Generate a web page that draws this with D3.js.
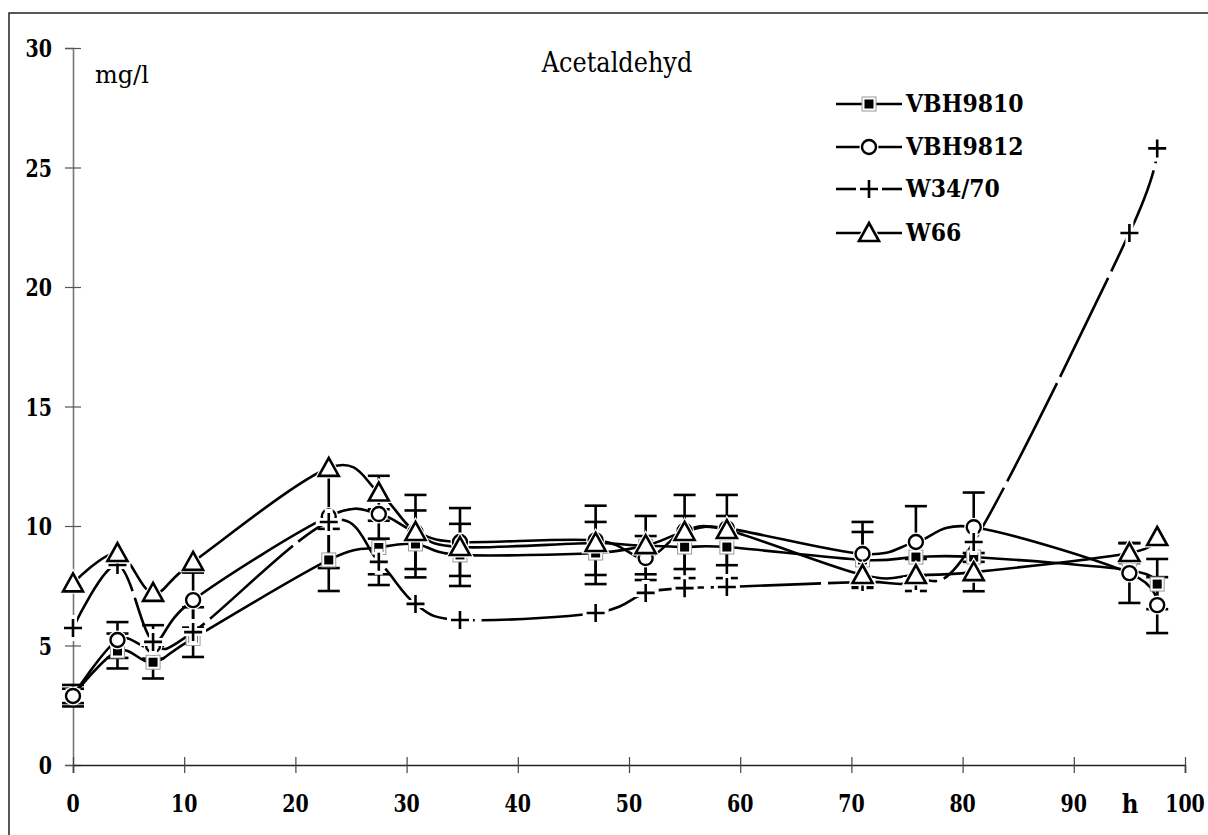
<!DOCTYPE html>
<html>
<head>
<meta charset="utf-8">
<script src="https://cdn.jsdelivr.net/npm/d3@7"></script>
<style>
  html, body { margin: 0; padding: 0; background: #fff; }
  svg { display: block; }
</style>
</head>
<body>
<svg id="chart" width="1208" height="835"></svg>
<script>
// Sampling times (h)
const hours = [0, 4, 7.2, 10.8, 23, 27.5, 30.8, 34.8, 47, 51.5, 55, 58.8, 71, 75.8, 81, 95, 97.5];

// Acetaldehyde concentration (mg/l) per yeast strain
const vbh9810 = [2.9, 4.77, 4.3, 5.3, 8.58, 9.1, 9.25, 8.79, 8.87, 9.15, 9.12, 9.12, 8.58, 8.7, 8.7, 8.15, 7.57];
const vbh9812 = [2.89, 5.23, 5.0, 6.9, 10.4, 10.5, 9.75, 9.33, 9.4, 8.66, 9.8, 9.9, 8.83, 9.33, 9.95, 8.03, 6.69];
const w3470   = [5.73, 8.37, 5.15, 5.56, 10.17, 8.5, 6.74, 6.07, 6.36, 7.2, 7.4, 7.45, 7.66, 7.7, 9.33, 22.26, 25.8];
const w66     = [7.6, 8.87, 7.2, 8.5, 12.43, 11.4, 9.75, 9.12, 9.29, 9.2, 9.75, 9.83, 7.95, 7.95, 8.07, 8.87, 9.54];

// Standard deviations (± mg/l), null where no bar is drawn
const vbh9810Err = [0.45, 0.73, 0.68, null, 1.3, 1.12, 1.4, 1.3, 1.3, null, 1.3, 1.3, 1.17, null, null, null, 1.05];
const vbh9812Err = [0.3, 0.75, null, 1.15, null, null, null, 1.42, 1.45, 0.92, null, null, 1.34, 1.5, 1.45, 1.25, 1.17];
const w3470Err   = [null, null, 0.7, 1.04, 1.93, 0.97, null, null, null, null, null, null, null, null, null, null, null];
const w66Err     = [null, null, null, null, null, 0.7, 1.55, null, null, 1.22, 1.55, 1.47, null, 0.67, 0.8, 0.42, null];

const seriesNames = ["VBH9810", "VBH9812", "W34/70", "W66"];
const seriesValues = [vbh9810, vbh9812, w3470, w66];
const seriesErrors = [vbh9810Err, vbh9812Err, w3470Err, w66Err];
const seriesMarkers = ["square", "circle", "plus", "triangle"];
const seriesDash = [null, null, "110,7", null];

const xTicks = [0, 10, 20, 30, 40, 50, 60, 70, 80, 90, 100];
const yTicks = [0, 5, 10, 15, 20, 25, 30];

const titleText = "Acetaldehyd";
const unitText = "mg/l";
const xUnitText = "h";

const SERIF = "'DejaVu Serif', 'Liberation Serif', serif";
const svg = d3.select("#chart");

// Text helper: serif label, slightly stretched vertically like the printed figure
function label(g, x0, y0, str, opts) {
  const o = Object.assign({ size: 20, weight: "normal", anchor: "start", sy: 1 }, opts || {});
  return g.append("text")
    .attr("transform", `translate(${x0},${y0}) scale(1,${o.sy})`)
    .attr("font-family", SERIF)
    .attr("font-size", o.size)
    .attr("font-weight", o.weight)
    .attr("text-anchor", o.anchor)
    .attr("fill", "#000")
    .text(str);
}

// Outer frame (top and left edges visible)
svg.append("path")
  .attr("d", "M9,835 L9,13 L1208,13")
  .attr("fill", "none").attr("stroke", "#222").attr("stroke-width", 1.5);

const x = d3.scaleLinear().domain([0, 100]).range([73, 1185]);
const y = d3.scaleLinear().domain([0, 30]).range([765, 48]);

// Y axis (ticks cross the axis line)
const yAxis = svg.append("g")
  .attr("transform", `translate(${x(0)},0)`)
  .call(d3.axisLeft(y).tickValues(yTicks).tickSize(8).tickFormat(""));
yAxis.select(".domain").attr("stroke", "#777").attr("stroke-width", 1.6);
yAxis.selectAll(".tick line").attr("x1", -8).attr("x2", 8).attr("stroke", "#555").attr("stroke-width", 1.2);
yAxis.selectAll(".tick text").remove();

// X axis
const xAxis = svg.append("g")
  .attr("transform", `translate(0,${y(0)})`)
  .call(d3.axisBottom(x).tickValues(xTicks).tickSize(8).tickFormat(""));
xAxis.select(".domain").attr("stroke", "#222").attr("stroke-width", 1.6);
xAxis.selectAll(".tick line").attr("y1", -8).attr("y2", 8).attr("stroke", "#444").attr("stroke-width", 1.2);
xAxis.selectAll(".tick text").remove();

// Tick labels
const tickLabels = svg.append("g");
yTicks.forEach(v => label(tickLabels, 52, y(v) + 9, String(v), { size: 19, weight: "bold", anchor: "end", sy: 1.3 }));
xTicks.forEach(v => label(tickLabels, x(v), 812, String(v), { size: 19, weight: "bold", anchor: "middle", sy: 1.3 }));

// Titles
label(svg, 617, 72, titleText, { size: 24, anchor: "middle", sy: 1.15 });
label(svg, 95, 83, unitText, { size: 24 });
label(svg, 1130, 813, xUnitText, { size: 23, weight: "bold", anchor: "middle", sy: 1.1 });

// Error bars
const eb = svg.append("g").attr("stroke", "#000").attr("stroke-width", 2.6).attr("fill", "none");
seriesValues.forEach((vals, si) => {
  const errs = seriesErrors[si];
  hours.forEach((h, i) => {
    const e = errs[i];
    if (e == null || vals[i] == null) return;
    const cx = x(h), y1 = y(vals[i] + e), y2 = y(vals[i] - e);
    eb.append("line").attr("x1", cx).attr("x2", cx).attr("y1", y1).attr("y2", y2);
    eb.append("line").attr("x1", cx - 11).attr("x2", cx + 11).attr("y1", y1).attr("y2", y1);
    eb.append("line").attr("x1", cx - 11).attr("x2", cx + 11).attr("y1", y2).attr("y2", y2);
  });
});

// Smoothed series lines
const line = d3.line()
  .defined(d => d[1] != null)
  .x(d => x(d[0])).y(d => y(d[1]))
  .curve(d3.curveCatmullRom.alpha(0));

seriesValues.forEach((vals, si) => {
  svg.append("path")
    .datum(hours.map((h, i) => [h, vals[i]]))
    .attr("d", line)
    .attr("fill", "none").attr("stroke", "#000").attr("stroke-width", 2.6)
    .attr("stroke-dasharray", seriesDash[si]);
});

// Marker drawing
function drawMarker(g, type, cx, cy) {
  if (type === "square") {
    g.append("rect").attr("x", cx - 7).attr("y", cy - 7).attr("width", 14).attr("height", 14)
      .attr("fill", "#fff").attr("stroke", "#999").attr("stroke-width", 1);
    g.append("rect").attr("x", cx - 4.5).attr("y", cy - 4.5).attr("width", 9).attr("height", 9)
      .attr("fill", "#000");
  } else if (type === "circle") {
    g.append("circle").attr("cx", cx).attr("cy", cy).attr("r", 9.5).attr("fill", "#fff");
    g.append("circle").attr("cx", cx).attr("cy", cy).attr("r", 7)
      .attr("fill", "#fff").attr("stroke", "#000").attr("stroke-width", 2.4);
  } else if (type === "plus") {
    const p = `M${cx - 9},${cy} L${cx + 9},${cy} M${cx},${cy - 9} L${cx},${cy + 9}`;
    g.append("path").attr("d", p).attr("stroke", "#fff").attr("stroke-width", 8).attr("stroke-linecap", "square");
    g.append("path").attr("d", p).attr("stroke", "#000").attr("stroke-width", 2.6);
  } else if (type === "triangle") {
    const t = `M${cx},${cy - 10} L${cx + 10},${cy + 8} L${cx - 10},${cy + 8} Z`;
    g.append("path").attr("d", t).attr("fill", "#fff").attr("stroke", "#fff").attr("stroke-width", 5);
    g.append("path").attr("d", t).attr("fill", "#fff").attr("stroke", "#000")
      .attr("stroke-width", 2.6).attr("stroke-linejoin", "miter");
  }
}

const markers = svg.append("g");
seriesValues.forEach((vals, si) => {
  hours.forEach((h, i) => {
    if (vals[i] == null) return;
    drawMarker(markers, seriesMarkers[si], x(h), y(vals[i]));
  });
});

// Legend
const legendY = [104, 147, 189, 233];
const legend = svg.append("g");
seriesNames.forEach((name, si) => {
  const ly = legendY[si];
  if (seriesDash[si]) {
    legend.append("line").attr("x1", 836).attr("x2", 856).attr("y1", ly).attr("y2", ly)
      .attr("stroke", "#000").attr("stroke-width", 2.6);
    legend.append("line").attr("x1", 882).attr("x2", 902).attr("y1", ly).attr("y2", ly)
      .attr("stroke", "#000").attr("stroke-width", 2.6);
  } else {
    legend.append("line").attr("x1", 836).attr("x2", 902).attr("y1", ly).attr("y2", ly)
      .attr("stroke", "#000").attr("stroke-width", 2.6);
  }
  drawMarker(legend, seriesMarkers[si], 869, ly);
  label(legend, 906, ly + 8, name, { size: 22, weight: "bold", sy: 1.12 });
});
</script>
</body>
</html>
